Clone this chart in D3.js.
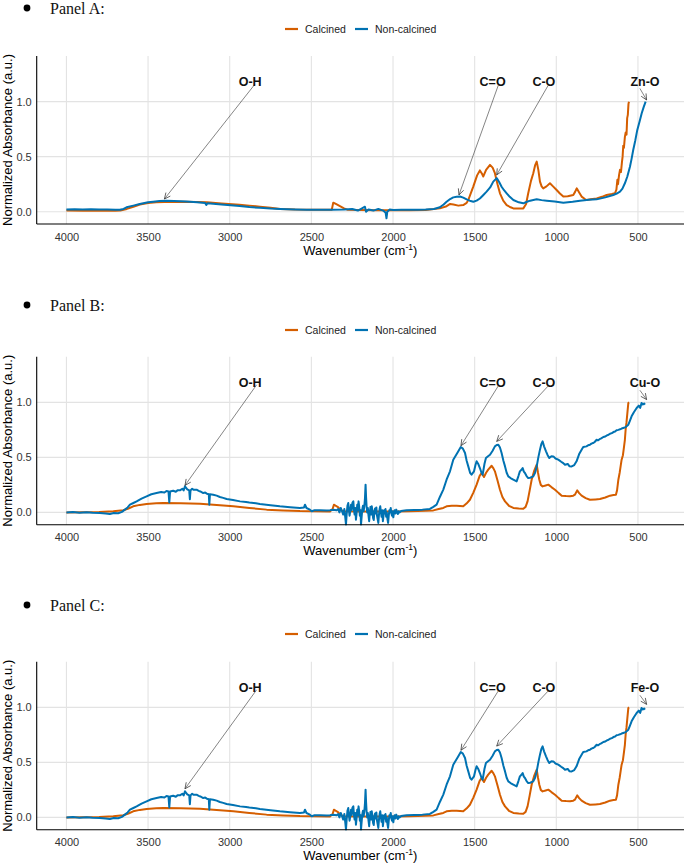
<!DOCTYPE html>
<html>
<head>
<meta charset="utf-8">
<script src="https://cdn.jsdelivr.net/npm/d3@7"></script>
<style>
  body { margin: 0; background: #fff; }
  svg { display: block; }
</style>
</head>
<body>
<script>
// Tick labels
var xTicks = [4000, 3500, 3000, 2500, 2000, 1500, 1000, 500];
var yTicks = [0, 0.5, 1.0];

// Series names
var seriesNames = ["Calcined", "Non-calcined"];

// Panel A spectra [wavenumber, normalized absorbance]
var calcinedA = [[4000,0.01],[3900,0.008],[3800,0.008],[3700,0.008],[3670,0.01],[3630,0.025],[3590,0.045],[3550,0.065],[3500,0.078],[3450,0.085],[3400,0.088],[3300,0.09],[3200,0.088],[3140,0.085],[3050,0.075],[2940,0.062],[2880,0.055],[2815,0.045],[2750,0.035],[2690,0.025],[2600,0.02],[2500,0.018],[2400,0.017],[2375,0.018],[2366,0.082],[2350,0.07],[2325,0.05],[2300,0.03],[2280,0.018],[2200,0.016],[2100,0.012],[2000,0.012],[1900,0.014],[1800,0.016],[1713,0.03],[1672,0.05],[1650,0.07],[1630,0.065],[1600,0.055],[1570,0.06],[1549,0.08],[1539,0.106],[1508,0.23],[1485,0.33],[1468,0.375],[1455,0.345],[1447,0.32],[1430,0.38],[1406,0.425],[1390,0.4],[1376,0.35],[1360,0.25],[1345,0.167],[1325,0.1],[1304,0.06],[1280,0.04],[1263,0.03],[1230,0.028],[1202,0.03],[1185,0.07],[1172,0.167],[1155,0.28],[1141,0.35],[1130,0.42],[1120,0.455],[1110,0.38],[1100,0.273],[1090,0.23],[1080,0.212],[1060,0.23],[1039,0.258],[1020,0.23],[998,0.197],[978,0.165],[957,0.137],[930,0.14],[896,0.152],[885,0.18],[875,0.212],[860,0.175],[845,0.137],[825,0.115],[814,0.106],[790,0.112],[753,0.121],[720,0.135],[692,0.152],[660,0.16],[641,0.167],[632,0.2],[626,0.29],[622,0.25],[616,0.33],[610,0.38],[604,0.36],[598,0.45],[594,0.5],[590,0.6],[586,0.58],[580,0.68],[575,0.72],[570,0.7],[566,0.85],[562,0.88],[558,0.98],[555,1.0]];
var nonCalcinedA = [[4000,0.02],[3950,0.022],[3900,0.019],[3850,0.021],[3800,0.02],[3750,0.019],[3700,0.018],[3673,0.018],[3650,0.025],[3632,0.04],[3590,0.055],[3551,0.07],[3500,0.085],[3469,0.09],[3430,0.097],[3388,0.1],[3340,0.097],[3265,0.092],[3200,0.085],[3150,0.078],[3143,0.062],[3136,0.077],[3050,0.065],[2939,0.052],[2880,0.042],[2815,0.035],[2750,0.028],[2692,0.024],[2600,0.02],[2529,0.018],[2450,0.018],[2376,0.018],[2300,0.02],[2250,0.025],[2215,0.01],[2190,0.03],[2172,0.045],[2165,0.0],[2150,0.02],[2120,0.01],[2090,0.025],[2060,0.01],[2045,-0.01],[2040,-0.06],[2035,0.0],[2020,0.02],[1998,0.016],[1950,0.018],[1900,0.017],[1850,0.018],[1800,0.02],[1750,0.025],[1713,0.04],[1690,0.065],[1672,0.09],[1650,0.115],[1631,0.13],[1610,0.136],[1590,0.138],[1570,0.128],[1549,0.112],[1530,0.1],[1508,0.09],[1488,0.1],[1468,0.12],[1448,0.15],[1427,0.182],[1405,0.22],[1386,0.273],[1365,0.305],[1350,0.27],[1335,0.227],[1320,0.195],[1304,0.167],[1285,0.135],[1263,0.106],[1230,0.085],[1202,0.076],[1180,0.09],[1160,0.1],[1141,0.106],[1120,0.112],[1090,0.105],[1059,0.1],[1010,0.092],[957,0.082],[900,0.09],[855,0.1],[800,0.108],[753,0.112],[700,0.13],[651,0.152],[630,0.165],[610,0.182],[595,0.21],[580,0.258],[565,0.32],[549,0.409],[539,0.48],[529,0.561],[516,0.65],[504,0.743],[490,0.82],[477,0.894],[465,0.95],[453,1.0]];

// Panel B spectra (panel C shows the same curves)
var calcinedB = [[4000,0.0],[3900,0.002],[3800,0.003],[3713,0.01],[3652,0.019],[3620,0.035],[3591,0.055],[3550,0.068],[3509,0.076],[3450,0.082],[3407,0.085],[3300,0.084],[3182,0.079],[3080,0.068],[2978,0.055],[2880,0.04],[2774,0.025],[2672,0.018],[2570,0.012],[2480,0.01],[2386,0.009],[2370,0.03],[2362,0.07],[2350,0.06],[2335,0.045],[2320,0.02],[2300,0.01],[2200,0.008],[2100,0.008],[1978,0.008],[1900,0.01],[1800,0.014],[1753,0.018],[1720,0.03],[1692,0.04],[1672,0.055],[1640,0.06],[1610,0.06],[1570,0.055],[1550,0.08],[1529,0.115],[1508,0.18],[1488,0.252],[1470,0.33],[1458,0.358],[1443,0.321],[1430,0.36],[1417,0.388],[1396,0.424],[1385,0.4],[1376,0.373],[1360,0.29],[1345,0.206],[1330,0.14],[1314,0.1],[1290,0.06],[1263,0.04],[1230,0.035],[1202,0.033],[1188,0.05],[1176,0.1],[1163,0.2],[1151,0.297],[1135,0.38],[1120,0.433],[1112,0.36],[1104,0.297],[1095,0.25],[1084,0.236],[1065,0.245],[1049,0.252],[1030,0.23],[1008,0.206],[985,0.175],[967,0.152],[940,0.148],[916,0.146],[896,0.152],[886,0.161],[872,0.2],[860,0.175],[845,0.152],[820,0.13],[794,0.115],[760,0.118],[733,0.121],[700,0.135],[671,0.152],[650,0.158],[635,0.161],[628,0.2],[620,0.297],[612,0.36],[606,0.42],[600,0.479],[592,0.52],[585,0.6],[580,0.66],[575,0.76],[570,0.82],[565,0.9],[559,0.994],[554,1.0]];
var nonCalcinedB = [[4000,0.0],[3960,0.003],[3920,-0.003],[3877,0.002],[3840,-0.004],[3795,-0.006],[3760,-0.01],[3734,-0.015],[3710,-0.005],[3683,-0.008],[3660,0.005],[3642,0.025],[3625,0.045],[3611,0.07],[3590,0.085],[3570,0.1],[3540,0.125],[3509,0.146],[3480,0.165],[3448,0.176],[3420,0.185],[3400,0.18],[3387,0.195],[3375,0.19],[3370,0.09],[3365,0.19],[3346,0.197],[3330,0.188],[3320,0.2],[3305,0.2],[3290,0.215],[3282,0.2],[3274,0.237],[3260,0.21],[3248,0.2],[3244,0.12],[3240,0.2],[3230,0.215],[3220,0.205],[3203,0.206],[3190,0.195],[3180,0.19],[3162,0.176],[3150,0.18],[3140,0.17],[3128,0.165],[3125,0.07],[3121,0.165],[3101,0.161],[3080,0.152],[3060,0.14],[3040,0.132],[3019,0.122],[2980,0.112],[2937,0.1],[2900,0.095],[2880,0.09],[2840,0.082],[2815,0.076],[2750,0.065],[2693,0.055],[2630,0.047],[2570,0.04],[2545,0.045],[2539,0.07],[2530,0.04],[2509,0.025],[2498,0.01],[2480,0.02],[2447,0.019],[2407,0.018],[2386,0.02],[2366,0.024],[2345,0.02],[2336,0.03],[2328,0.0],[2320,0.04],[2312,0.01],[2305,-0.02],[2298,0.03],[2292,-0.05],[2288,-0.11],[2284,-0.02],[2279,0.06],[2274,0.085],[2270,0.02],[2266,-0.03],[2262,0.01],[2257,0.07],[2253,0.02],[2248,0.09],[2243,0.1],[2239,0.02],[2235,-0.02],[2231,0.04],[2227,-0.066],[2223,-0.01],[2219,0.07],[2215,0.02],[2211,0.1],[2207,0.05],[2203,-0.03],[2199,0.02],[2196,-0.11],[2192,-0.04],[2188,0.03],[2184,0.06],[2180,0.01],[2176,0.05],[2172,0.12],[2168,0.252],[2165,0.14],[2162,0.06],[2158,0.0],[2154,0.04],[2150,-0.03],[2146,-0.08],[2142,0.0],[2138,0.05],[2134,-0.02],[2130,0.055],[2126,0.01],[2122,-0.05],[2118,-0.07],[2114,0.01],[2110,0.035],[2106,-0.01],[2102,0.045],[2098,-0.03],[2094,-0.06],[2090,-0.096],[2086,-0.02],[2082,0.03],[2078,0.055],[2074,0.0],[2070,-0.04],[2066,0.02],[2062,-0.08],[2058,-0.03],[2054,0.02],[2050,-0.01],[2046,0.03],[2042,-0.04],[2038,0.0],[2034,-0.06],[2030,-0.096],[2026,-0.03],[2022,0.02],[2018,0.0],[2014,0.04],[2010,-0.01],[2006,-0.03],[2002,0.01],[1998,-0.045],[1994,0.0],[1990,0.02],[1985,-0.01],[1980,0.025],[1975,0.0],[1970,-0.015],[1965,0.01],[1960,0.0],[1950,0.012],[1940,0.015],[1917,0.02],[1870,0.022],[1820,0.025],[1774,0.031],[1753,0.05],[1733,0.07],[1713,0.14],[1692,0.207],[1672,0.297],[1651,0.373],[1631,0.479],[1610,0.53],[1600,0.555],[1585,0.594],[1572,0.58],[1559,0.54],[1549,0.47],[1539,0.418],[1528,0.36],[1519,0.343],[1504,0.373],[1495,0.43],[1488,0.464],[1478,0.44],[1468,0.403],[1458,0.36],[1451,0.343],[1440,0.44],[1431,0.494],[1418,0.51],[1406,0.524],[1390,0.56],[1376,0.6],[1365,0.612],[1355,0.615],[1345,0.59],[1335,0.54],[1324,0.47],[1314,0.418],[1304,0.36],[1294,0.327],[1278,0.31],[1263,0.297],[1243,0.282],[1232,0.33],[1223,0.373],[1212,0.39],[1206,0.403],[1199,0.37],[1192,0.358],[1182,0.33],[1172,0.312],[1160,0.315],[1141,0.327],[1130,0.36],[1120,0.418],[1110,0.5],[1100,0.57],[1092,0.62],[1084,0.646],[1075,0.6],[1063,0.555],[1053,0.52],[1043,0.494],[1030,0.51],[1018,0.509],[1005,0.49],[988,0.479],[970,0.46],[960,0.45],[947,0.433],[930,0.44],[920,0.42],[906,0.418],[890,0.43],[876,0.464],[860,0.53],[845,0.57],[835,0.594],[815,0.6],[805,0.61],[794,0.615],[785,0.625],[775,0.63],[765,0.64],[753,0.66],[745,0.655],[735,0.665],[725,0.672],[712,0.685],[700,0.69],[690,0.7],[680,0.705],[671,0.715],[660,0.72],[650,0.73],[640,0.735],[631,0.746],[620,0.75],[610,0.755],[600,0.762],[590,0.767],[575,0.775],[559,0.797],[550,0.83],[539,0.873],[525,0.91],[508,0.949],[495,0.97],[486,0.95],[478,0.994],[470,0.98],[462,0.99],[457,0.979]];

// Band labels: text, label point, arrow start, arrow tip (data units)
var bandsA = [
  ["O-H", 2875, 1.18, 2845, 1.16, 3400, 0.115],
  ["C=O", 1390, 1.18, 1355, 1.15, 1596, 0.152],
  ["C-O", 1076, 1.18, 1049, 1.15, 1365, 0.334],
  ["Zn-O", 457, 1.18, 488, 1.12, 447, 1.015]
];
var bandsB = [
  ["O-H", 2875, 1.18, 2835, 1.16, 3274, 0.245],
  ["C=O", 1390, 1.18, 1355, 1.15, 1584, 0.606],
  ["C-O", 1076, 1.18, 1049, 1.15, 1365, 0.645],
  ["Cu-O", 457, 1.18, 488, 1.11, 447, 1.025]
];
var bandsC = [
  ["O-H", 2875, 1.18, 2835, 1.16, 3274, 0.26],
  ["C=O", 1390, 1.18, 1355, 1.15, 1584, 0.61],
  ["C-O", 1076, 1.18, 1049, 1.15, 1365, 0.648],
  ["Fe-O", 457, 1.18, 488, 1.11, 447, 1.027]
];

var width = 685,
    height = 865;

var color = d3.scaleOrdinal()
    .domain(seriesNames)
    .range(["#D55E00", "#0072B2"]);

var svg = d3.select("body").append("svg")
    .attr("width", width)
    .attr("height", height)
    .style("font-family", "'Liberation Sans', Arial, sans-serif");

// open arrow head used by the band labels
svg.append("defs").append("marker")
    .attr("id", "arrow")
    .attr("viewBox", "-7 -4 8 8")
    .attr("refX", 0)
    .attr("refY", 0)
    .attr("markerWidth", 8)
    .attr("markerHeight", 8)
    .attr("markerUnits", "userSpaceOnUse")
    .attr("orient", "auto")
  .append("path")
    .attr("d", "M-6,-2.8L0,0L-6,2.8")
    .attr("fill", "none")
    .attr("stroke", "#333")
    .attr("stroke-width", 0.7);

var panels = [
  {name: "Panel A:", titleY: 8, legendY: 29, top: 56, calcined: calcinedA, nonCalcined: nonCalcinedA, bands: bandsA},
  {name: "Panel B:", titleY: 305, legendY: 330, top: 356.7, calcined: calcinedB, nonCalcined: nonCalcinedB, bands: bandsB},
  {name: "Panel C:", titleY: 605, legendY: 634, top: 661.7, calcined: calcinedB, nonCalcined: nonCalcinedB, bands: bandsC}
];

var left = 36.7, right = 684, plotH = 168;

var x = d3.scaleLinear()
    .domain([4182, 218])
    .range([left, right]);

panels.forEach(function(p, i) {
  var g = svg.append("g");
  var bottom = p.top + plotH;

  var y = d3.scaleLinear()
      .domain([-0.112, 1.415])
      .range([bottom, p.top]);

  //Title with bullet
  g.append("circle")
      .attr("cx", 27)
      .attr("cy", p.titleY)
      .attr("r", 3.4)
      .attr("fill", "#000");
  g.append("text")
      .attr("x", 50)
      .attr("y", p.titleY + 5.5)
      .attr("font-family", "'Liberation Serif', 'Times New Roman', serif")
      .attr("font-size", 16)
      .attr("fill", "#111")
      .text(p.name);

  //Legend
  var leg = g.append("g").attr("transform", "translate(0," + p.legendY + ")");
  var legX = [285, 355];
  seriesNames.forEach(function(s, j) {
    leg.append("line")
        .attr("x1", legX[j]).attr("x2", legX[j] + 13)
        .attr("y1", 0).attr("y2", 0)
        .attr("stroke", color(s))
        .attr("stroke-width", 2.2);
    leg.append("text")
        .attr("x", legX[j] + 20)
        .attr("y", 3.8)
        .attr("font-size", 10.5)
        .attr("fill", "#222")
        .text(s);
  });

  //Grid lines
  g.append("g").selectAll("line.vx")
    .data(xTicks)
    .enter().append("line")
      .attr("x1", function(d) { return x(d); })
      .attr("x2", function(d) { return x(d); })
      .attr("y1", p.top).attr("y2", bottom)
      .attr("stroke", "#e3e3e3")
      .attr("stroke-width", 1.1);
  g.append("g").selectAll("line.hy")
    .data(yTicks)
    .enter().append("line")
      .attr("x1", left).attr("x2", right)
      .attr("y1", function(d) { return y(d); })
      .attr("y2", function(d) { return y(d); })
      .attr("stroke", "#e3e3e3")
      .attr("stroke-width", 1.1);

  //Spectra
  var line = d3.line()
      .x(function(d) { return x(d[0]); })
      .y(function(d) { return y(d[1]); });

  g.append("path")
      .datum(p.calcined)
      .attr("d", line)
      .attr("fill", "none")
      .attr("stroke", color("Calcined"))
      .attr("stroke-width", 2)
      .attr("stroke-linejoin", "round");
  g.append("path")
      .datum(p.nonCalcined)
      .attr("d", line)
      .attr("fill", "none")
      .attr("stroke", color("Non-calcined"))
      .attr("stroke-width", 2)
      .attr("stroke-linejoin", "round");

  //Band labels and arrows
  var bands = g.append("g").selectAll("g")
    .data(p.bands)
    .enter().append("g");
  bands.append("line")
      .attr("x1", function(d) { return x(d[3]); })
      .attr("y1", function(d) { return y(d[4]); })
      .attr("x2", function(d) { return x(d[5]); })
      .attr("y2", function(d) { return y(d[6]); })
      .attr("stroke", "#333")
      .attr("stroke-width", 0.6)
      .attr("marker-end", "url(#arrow)");
  bands.append("text")
      .attr("x", function(d) { return x(d[1]); })
      .attr("y", function(d) { return y(d[2]) + 4.6; })
      .attr("text-anchor", "middle")
      .attr("font-size", 12.5)
      .attr("font-weight", "bold")
      .attr("fill", "#111")
      .text(function(d) { return d[0]; });

  //Axes
  var xAxis = g.append("g")
      .attr("transform", "translate(0," + bottom + ")")
      .call(d3.axisBottom(x).tickValues(xTicks).tickSize(0).tickPadding(9).tickFormat(d3.format("d")));
  xAxis.select(".domain").remove();
  xAxis.selectAll("text")
      .attr("font-family", "'Liberation Sans', Arial, sans-serif")
      .attr("font-size", 11)
      .attr("fill", "#333");

  var yAxis = g.append("g")
      .attr("transform", "translate(" + left + ",0)")
      .call(d3.axisLeft(y).tickValues(yTicks).tickSize(0).tickPadding(5).tickFormat(d3.format(".1f")));
  yAxis.select(".domain").remove();
  yAxis.selectAll("text")
      .attr("font-family", "'Liberation Sans', Arial, sans-serif")
      .attr("font-size", 11)
      .attr("fill", "#333");

  g.append("line")
      .attr("x1", left).attr("x2", left)
      .attr("y1", p.top).attr("y2", bottom)
      .attr("stroke", "#000").attr("stroke-width", 1.1);
  g.append("line")
      .attr("x1", left).attr("x2", right)
      .attr("y1", bottom).attr("y2", bottom)
      .attr("stroke", "#000").attr("stroke-width", 1.1);

  //Axis titles
  var xt = g.append("text")
      .attr("x", (left + right) / 2)
      .attr("y", bottom + 30.5)
      .attr("text-anchor", "middle")
      .attr("font-size", 13)
      .attr("fill", "#000");
  xt.append("tspan").text("Wavenumber (cm");
  xt.append("tspan").attr("font-size", 8.5).attr("dy", -5).text("-1");
  xt.append("tspan").attr("dy", 5).text(")");

  g.append("text")
      .attr("transform", "translate(11.5," + ((p.top + bottom) / 2) + ") rotate(-90)")
      .attr("text-anchor", "middle")
      .attr("font-size", 13)
      .attr("fill", "#000")
      .text("Normalized Absorbance (a.u.)");
});
</script>
</body>
</html>
